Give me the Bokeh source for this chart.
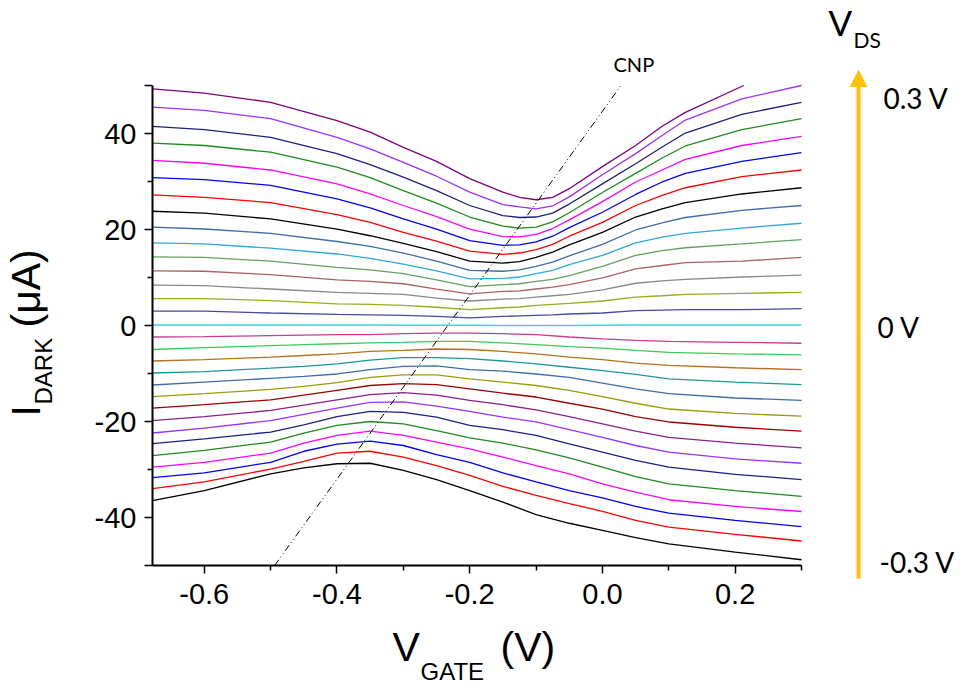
import math
from bokeh.plotting import figure
from bokeh.models import Range1d, FixedTicker, NumeralTickFormatter, Label, Arrow, NormalHead
from bokeh.embed import file_html
from bokeh.resources import INLINE

# ---------------- data ----------------
# gate-voltage sample points for the positive-VDS curves (V)
VG_POS = [-0.678, -0.6, -0.5, -0.4, -0.35, -0.3, -0.25, -0.2, -0.15, -0.125, -0.1, -0.075, -0.05,
          0.0, 0.05, 0.09, 0.125, 0.21, 0.3]
# the 0.30 V curve leaves the top of the plot at ~0.213 V
VG_P30 = [-0.678, -0.6, -0.5, -0.4, -0.35, -0.3, -0.25, -0.2, -0.15, -0.125, -0.1, -0.075, -0.05,
          0.0, 0.05, 0.09, 0.125, 0.213]
# gate-voltage sample points for the zero / negative-VDS curves (V)
VG_NEG = [-0.678, -0.6, -0.5, -0.45, -0.4, -0.35, -0.3, -0.25, -0.2, -0.15, -0.1, -0.05,
          0.0, 0.05, 0.1, 0.2, 0.3]

# I_DARK (uA) for VDS = +0.30 ... +0.02 V
I_P30 = [49.3, 48.4, 46.5, 42.7, 40.3, 37.1, 34.2, 30.6, 27.8, 26.7, 26.2, 26.7, 28.5, 33.1, 37.5, 41.5, 44.4, 50.0]
I_P28 = [45.5, 44.8, 43.1, 39.2, 36.8, 34.0, 31.1, 27.8, 25.2, 24.7, 24.3, 24.9, 26.8, 31.4, 35.8, 39.6, 42.8, 47.2, 50.0]
I_P26 = [41.5, 40.8, 39.2, 35.8, 33.5, 30.9, 28.1, 25.0, 22.9, 22.5, 22.6, 23.4, 25.3, 29.5, 33.7, 37.2, 40.1, 44.0, 46.5]
I_P24 = [38.0, 37.5, 36.1, 33.0, 30.8, 28.1, 25.5, 22.6, 20.7, 20.3, 20.5, 21.6, 23.5, 27.7, 31.7, 34.9, 37.4, 40.8, 43.1]
I_P22 = [34.4, 33.8, 32.4, 29.5, 27.4, 25.0, 22.7, 20.1, 18.5, 18.45, 19.0, 20.2, 22.0, 25.8, 29.9, 32.4, 34.6, 37.5, 39.4]
I_P20 = [30.8, 30.4, 29.2, 26.4, 24.5, 22.2, 20.1, 17.7, 16.7, 16.8, 17.4, 18.6, 20.4, 23.6, 27.3, 29.9, 31.7, 34.2, 36.0]
I_P18 = [27.2, 26.7, 25.6, 23.1, 21.5, 19.4, 17.6, 15.5, 14.8, 15.1, 15.8, 16.9, 18.6, 21.5, 25.0, 27.1, 28.7, 31.0, 32.4]
I_P16 = [23.8, 23.4, 22.2, 20.1, 18.7, 17.1, 15.4, 13.4, 13.0, 13.3, 14.2, 15.3, 16.8, 19.4, 22.6, 24.3, 25.6, 27.4, 28.7]
I_P14 = [20.5, 20.1, 19.2, 17.5, 16.5, 15.1, 13.4, 11.5, 11.3, 11.6, 12.3, 13.2, 14.5, 16.9, 19.9, 21.4, 22.5, 24.0, 25.0]
I_P12 = [17.2, 17.0, 16.1, 14.9, 14.0, 12.8, 11.4, 9.7, 9.8, 10.1, 10.8, 11.5, 12.7, 14.6, 17.2, 18.4, 19.2, 20.3, 21.3]
I_P10 = [14.3, 14.2, 13.4, 12.1, 11.6, 10.8, 9.5, 8.1, 8.5, 8.7, 9.2, 9.6, 10.4, 12.3, 14.6, 15.6, 16.2, 17.0, 17.9]
I_P08 = [11.4, 11.3, 10.6, 9.5, 9.2, 8.7, 7.6, 6.6, 7.1, 7.2, 7.6, 8.0, 8.5, 9.9, 11.8, 12.5, 13.1, 13.4, 14.2]
I_P06 = [8.4, 8.3, 7.6, 6.9, 6.7, 6.5, 5.7, 5.1, 5.5, 5.6, 5.9, 6.2, 6.5, 7.4, 8.8, 9.3, 9.6, 10.1, 10.5]
I_P04 = [5.6, 5.6, 5.2, 4.5, 4.4, 4.2, 3.8, 3.3, 3.7, 3.85, 4.2, 4.4, 4.6, 5.1, 5.9, 6.2, 6.5, 6.7, 6.9]
I_P02 = [3.0, 3.0, 2.6, 2.3, 2.2, 2.1, 1.9, 1.6, 1.9, 2.0, 2.1, 2.2, 2.4, 2.6, 3.1, 3.2, 3.3, 3.3, 3.5]

# VDS = 0 V
I_Z00 = [0.1, 0.1, 0.1, 0.1, 0.1, 0.1, 0.05, 0.05, 0.05, 0.0, 0.0, 0.0, 0.05, 0.1, 0.1, 0.1, 0.1]

# I_DARK (uA) for VDS = -0.02 ... -0.30 V
I_N02 = [-2.4, -2.3, -2.1, -2.0, -1.9, -1.9, -1.7, -1.6, -1.6, -1.7, -1.9, -2.4, -2.8, -3.1, -3.3, -3.5, -3.7]
I_N04 = [-5.0, -4.6, -4.2, -4.0, -3.8, -3.6, -3.5, -3.3, -3.3, -3.6, -4.0, -4.4, -4.7, -5.2, -5.6, -5.9, -6.1]
I_N06 = [-7.4, -7.1, -6.6, -6.25, -5.9, -5.4, -5.2, -4.9, -5.0, -5.4, -5.9, -6.6, -7.1, -7.85, -8.3, -8.8, -9.2]
I_N08 = [-9.9, -9.6, -8.9, -8.5, -8.0, -7.2, -6.7, -6.7, -6.9, -7.4, -8.0, -8.7, -9.4, -10.2, -11.1, -11.8, -12.3]
I_N10 = [-12.4, -11.8, -11.0, -10.6, -10.1, -9.2, -8.5, -8.4, -9.2, -9.5, -10.1, -10.8, -12.0, -13.2, -14.2, -15.1, -15.6]
I_N12 = [-14.8, -14.2, -13.3, -12.7, -11.9, -10.8, -10.3, -10.3, -11.1, -11.8, -12.5, -13.5, -14.8, -16.2, -17.4, -18.3, -18.9]
I_N14 = [-17.2, -16.5, -15.5, -14.5, -13.5, -12.5, -12.1, -12.3, -13.2, -14.1, -14.9, -16.2, -17.4, -19.0, -20.1, -21.2, -22.0]
I_N16 = [-19.8, -19.0, -17.7, -16.6, -15.5, -14.4, -14.0, -14.5, -15.6, -16.5, -17.6, -19.0, -20.5, -22.0, -23.3, -24.5, -25.5]
I_N18 = [-22.4, -21.4, -19.8, -18.5, -17.2, -16.0, -15.9, -16.8, -17.9, -19.1, -20.1, -21.7, -23.3, -25.0, -26.4, -27.8, -28.7]
I_N20 = [-24.6, -23.6, -22.2, -20.7, -19.0, -17.9, -18.1, -19.1, -20.8, -21.7, -22.9, -24.65, -26.4, -28.1, -29.5, -31.0, -32.1]
I_N22 = [-27.1, -26.0, -24.3, -22.4, -20.8, -20.0, -20.5, -21.9, -23.4, -24.5, -25.9, -27.6, -29.5, -31.5, -33.0, -34.4, -35.6]
I_N24 = [-29.5, -28.5, -26.6, -24.5, -22.9, -22.0, -22.9, -24.3, -25.7, -27.4, -29.2, -30.9, -33.0, -34.7, -36.3, -37.7, -38.75]
I_N26 = [-31.7, -30.7, -28.5, -26.2, -24.7, -24.1, -25.0, -26.9, -28.5, -30.7, -32.6, -34.4, -35.9, -37.7, -39.1, -40.6, -41.9]
I_N28 = [-34.0, -32.6, -29.9, -28.3, -26.6, -26.2, -27.4, -29.2, -31.2, -33.5, -35.4, -37.1, -38.7, -40.6, -42.0, -43.5, -44.9]
I_N30 = [-36.5, -34.4, -30.9, -29.65, -28.8, -28.7, -30.2, -32.1, -34.4, -36.8, -39.4, -41.2, -42.7, -44.2, -45.5, -47.2, -48.8]

# charge-neutrality-point guide line
CNP_VG = [-0.494, 0.028]
CNP_I = [-50.0, 50.0]

X_TICKS = [-0.6, -0.4, -0.2, 0.0, 0.2]
X_MINOR = [-0.5, -0.3, -0.1, 0.1, 0.3]
Y_TICKS = [-50, -40, -20, 0, 20, 40, 50]
Y_MINOR = [-30, -10, 10, 30]

POS_CURVES = [(VG_P30, I_P30), (VG_POS, I_P28), (VG_POS, I_P26), (VG_POS, I_P24), (VG_POS, I_P22),
              (VG_POS, I_P20), (VG_POS, I_P18), (VG_POS, I_P16), (VG_POS, I_P14), (VG_POS, I_P12),
              (VG_POS, I_P10), (VG_POS, I_P08), (VG_POS, I_P06), (VG_POS, I_P04), (VG_POS, I_P02)]
NEG_CURVES = [I_N02, I_N04, I_N06, I_N08, I_N10, I_N12, I_N14, I_N16,
              I_N18, I_N20, I_N22, I_N24, I_N26, I_N28, I_N30]

# ---------------- styles ----------------
POS_COLORS = ["#800080", "#9B30FF", "#1F1F7F", "#1E8B1E", "#FF00FF", "#0000FF", "#FF0000", "#000000",
              "#3D6DA5", "#2EA8D8", "#64A064", "#A86464", "#888888", "#9BAA22", "#4A4AA0"]
ZERO_COLOR = "#40D0E0"
NEG_COLORS = ["#C83C8C", "#3CCB5A", "#B5711E", "#1E9696", "#3C6EAA", "#9B9B0B", "#9B0000", "#8B208B",
              "#9B30FF", "#1F1F7F", "#1E8B1E", "#FF00FF", "#0000FF", "#FF0000", "#000000"]

W, H = 960, 686
# pixel box of the data area in the reference
FL, FR, FT, FB = 152, 801, 85, 565
XMIN, XMAX = -0.678, 0.3
YMIN, YMAX = -50.0, 50.0
# the figure frame spans the whole canvas; the axes are pinned to the data box
KX = (XMAX - XMIN) / (FR - FL)
KY = (YMAX - YMIN) / (FB - FT)
XS, XE = XMIN - FL * KX, XMIN + (W - FL) * KX
YS, YE = YMIN - (H - FB) * KY, YMAX + FT * KY

p = figure(width=W, height=H, output_backend="svg", toolbar_location=None,
           x_range=Range1d(XS, XE), y_range=Range1d(YS, YE),
           min_border=0, min_border_left=0, min_border_right=0, min_border_top=0, min_border_bottom=0)
p.title.visible = False
p.outline_line_color = None
p.xgrid.visible = False
p.ygrid.visible = False
p.background_fill_color = "white"
p.border_fill_color = "white"

for (xs, ys), c in zip(POS_CURVES, POS_COLORS):
    p.line(xs, ys, line_color=c, line_width=1.3)
p.line(VG_NEG, I_Z00, line_color=ZERO_COLOR, line_width=1.3)
for ys, c in zip(NEG_CURVES, NEG_COLORS):
    p.line(VG_NEG, ys, line_color=c, line_width=1.3)

p.line(CNP_VG, CNP_I, line_color="black", line_width=1, line_dash="7 3 1 3 1 3")

for ax in (p.xaxis[0], p.yaxis[0]):
    ax.axis_line_width = 2
    ax.axis_line_color = "black"
    ax.major_tick_in = 0
    ax.major_tick_out = 8
    ax.minor_tick_in = 0
    ax.minor_tick_out = 5
    ax.major_tick_line_width = 1.5
    ax.minor_tick_line_width = 1.5
    ax.major_label_text_font = "Liberation Sans"
    ax.major_label_text_font_size = "29px"
    ax.major_label_text_color = "black"

p.xaxis.fixed_location = YMIN
p.xaxis.bounds = (XMIN, XMAX)
p.xaxis.ticker = FixedTicker(ticks=X_TICKS, minor_ticks=X_MINOR)
p.xaxis.formatter = NumeralTickFormatter(format="0.0")
p.xaxis.major_label_standoff = 10

p.yaxis.fixed_location = XMIN
p.yaxis.bounds = (YMIN, YMAX)
p.yaxis.ticker = FixedTicker(ticks=Y_TICKS, minor_ticks=Y_MINOR)
p.yaxis.formatter = NumeralTickFormatter(format="0")
p.yaxis.major_label_overrides = {-50: "", 50: ""}
p.yaxis.major_label_standoff = 8

# Bokeh draws an "alphabetic" label ~0.43 em below its anchor; compensate
BASE_SHIFT = 0.43


def dx(px):
    return XS + px * KX


def dy(py):
    return YE - py * KY


def lab(text, px, py, size, font="Liberation Sans", vertical=False):
    if vertical:
        ax_, ay_, ang = px - BASE_SHIFT * size, py, math.pi / 2
    else:
        ax_, ay_, ang = px, py - BASE_SHIFT * size, 0.0
    p.add_layout(Label(x=dx(ax_), y=dy(ay_), text=text, text_font=font, text_font_size=f"{size}px",
                       text_align="left", text_baseline="alphabetic", angle=ang, text_color="black"))


# axis titles (baseline positions in canvas pixels)
lab("I", 43, 416, 41, vertical=True)
lab("DARK", 53, 404, 24, vertical=True)
lab("(\u03bcA)", 43, 327, 41, vertical=True)
lab("V", 392, 664, 41)
lab("GATE", 420, 681, 24)
lab("(V)", 500, 664, 41)

# annotations
lab("CNP", 613, 72, 20, font="Lato")
lab("V", 828, 37, 35, font="Lato")
lab("DS", 853, 48, 21, font="Lato")
lab("0.3 V", 883, 110, 28, font="Lato")
lab("0 V", 877, 339, 28, font="Lato")
lab("-0.3 V", 879, 574, 28, font="Lato")

p.add_layout(Arrow(x_start=dx(858), y_start=dy(578), x_end=dx(858), y_end=dy(70),
                   line_color="#FFC000", line_width=4,
                   end=NormalHead(size=16, fill_color="#FFC000", line_color="#FFC000")))

open("out.html", "w").write(file_html(p, INLINE))
